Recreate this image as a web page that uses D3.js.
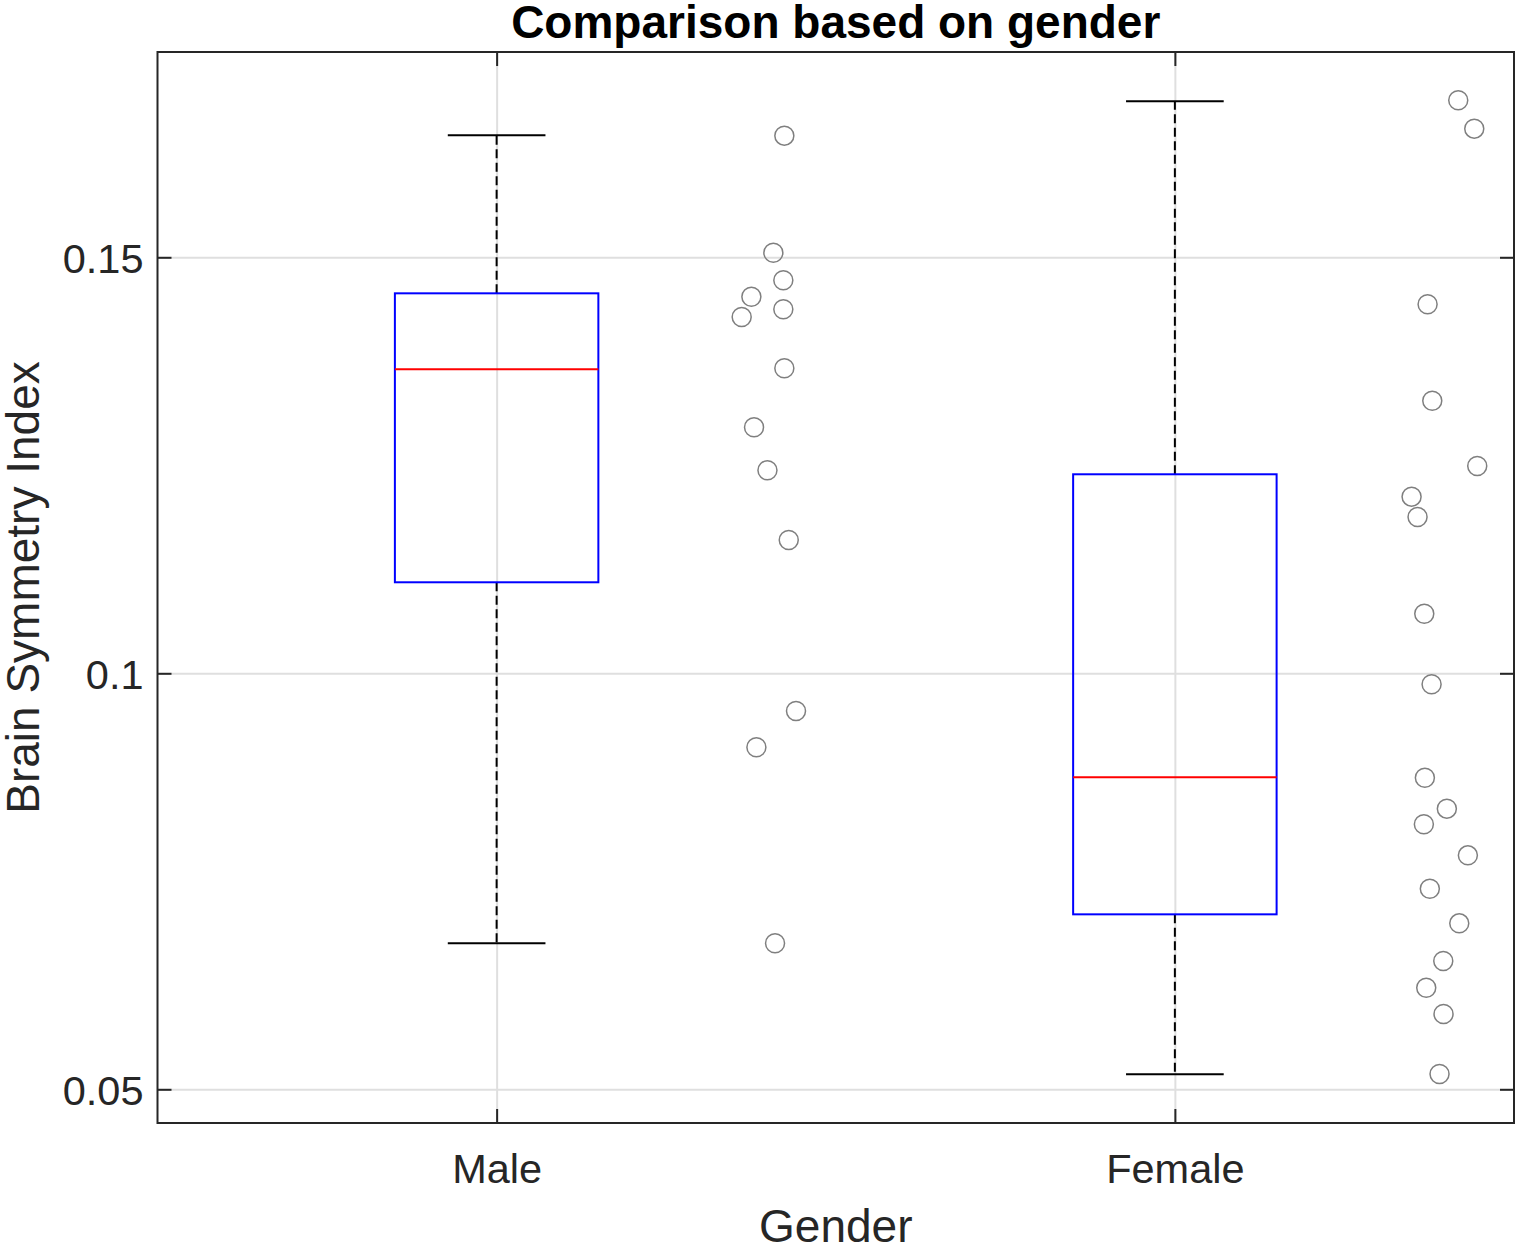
<!DOCTYPE html>
<html>
<head>
<meta charset="utf-8">
<script src="https://cdn.jsdelivr.net/npm/d3@7"></script>
<style>
  html, body { margin: 0; padding: 0; background: #ffffff; }
  svg { display: block; }
  text { font-family: "Liberation Sans", Arial, Helvetica, sans-serif; }
</style>
</head>
<body>
<svg id="chart" width="1525" height="1253"></svg>
<script>
// ---- data ----
const categories = ["Male", "Female"];
const categoryPositions = [1, 2];
const yTickValues = [0.05, 0.1, 0.15];
const yTickLabels = ["0.05", "0.1", "0.15"];

// box statistics per category (Male, Female)
const whiskerLow  = [0.06755, 0.0518];
const quartile1   = [0.11094, 0.07103];
const medians     = [0.13654, 0.0875];
const quartile3   = [0.14567, 0.12392];
const whiskerHigh = [0.16466, 0.16875];

// raw points (value, x position on category axis)
const maleValues = [0.16462, 0.15055, 0.14724, 0.14526, 0.14375, 0.14282, 0.13666,
                    0.12957, 0.1244, 0.11602, 0.09547, 0.09111, 0.06755];
const maleX      = [1.4242, 1.408, 1.4227, 1.3756, 1.4227, 1.3613, 1.4242,
                    1.3795, 1.3993, 1.4307, 1.4414, 1.383, 1.4105];
const femaleValues = [0.16887, 0.16546, 0.14435, 0.13276, 0.12492, 0.12123, 0.11879,
                      0.10716, 0.09868, 0.08745, 0.08373, 0.08185, 0.07812, 0.07411,
                      0.06995, 0.06542, 0.06221, 0.05905, 0.05184];
const femaleX      = [2.4178, 2.4414, 2.3726, 2.3795, 2.4458, 2.349, 2.3578,
                      2.3677, 2.3785, 2.3686, 2.401, 2.3671, 2.432, 2.3759,
                      2.4193, 2.3957, 2.3706, 2.3961, 2.3902];

const titleText = "Comparison based on gender";
const xLabelText = "Gender";
const yLabelText = "Brain Symmetry Index";

// ---- layout ----
const plotLeft = 157.5, plotRight = 1514, plotTop = 52, plotBottom = 1123;
const plotW = plotRight - plotLeft, plotH = plotBottom - plotTop;
const textColor = "#262626";
const tickLen = 14;

const svg = d3.select("#chart");
const g = svg.append("g").attr("transform", `translate(${plotLeft},${plotTop})`);

const x = d3.scaleLinear().domain([0.5, 2.5]).range([0, plotW]);
const y = d3.scaleLinear().domain([0.04595, 0.174675]).range([plotH, 0]);

// grid
const gridY = g.append("g").call(d3.axisLeft(y).tickValues(yTickValues).tickSize(-plotW).tickFormat(""));
const gridX = g.append("g").attr("transform", `translate(0,${plotH})`)
  .call(d3.axisBottom(x).tickValues(categoryPositions).tickSize(-plotH).tickFormat(""));
[gridY, gridX].forEach(gr => {
  gr.select(".domain").remove();
  gr.selectAll("line").attr("stroke", "#dfdfdf").attr("stroke-width", 2);
});

// boxes
const boxHalf = 0.15, capHalf = 0.072;
const boxData = categoryPositions.map((p, i) => ({
  p, lo: whiskerLow[i], q1: quartile1[i], med: medians[i], q3: quartile3[i], hi: whiskerHigh[i]
}));

const bx = g.append("g");
bx.selectAll(".wup").data(boxData).join("line").attr("class", "wup")
  .attr("x1", d => x(d.p)).attr("x2", d => x(d.p))
  .attr("y1", d => y(d.q3)).attr("y2", d => y(d.hi))
  .attr("stroke", "#000").attr("stroke-width", 2).attr("stroke-dasharray", "9,4.5");
bx.selectAll(".wdn").data(boxData).join("line").attr("class", "wdn")
  .attr("x1", d => x(d.p)).attr("x2", d => x(d.p))
  .attr("y1", d => y(d.q1)).attr("y2", d => y(d.lo))
  .attr("stroke", "#000").attr("stroke-width", 2).attr("stroke-dasharray", "9,4.5");
bx.selectAll(".caphi").data(boxData).join("line").attr("class", "caphi")
  .attr("x1", d => x(d.p - capHalf)).attr("x2", d => x(d.p + capHalf))
  .attr("y1", d => y(d.hi)).attr("y2", d => y(d.hi))
  .attr("stroke", "#000").attr("stroke-width", 2);
bx.selectAll(".caplo").data(boxData).join("line").attr("class", "caplo")
  .attr("x1", d => x(d.p - capHalf)).attr("x2", d => x(d.p + capHalf))
  .attr("y1", d => y(d.lo)).attr("y2", d => y(d.lo))
  .attr("stroke", "#000").attr("stroke-width", 2);
bx.selectAll(".box").data(boxData).join("rect").attr("class", "box")
  .attr("x", d => x(d.p - boxHalf)).attr("width", d => x(d.p + boxHalf) - x(d.p - boxHalf))
  .attr("y", d => y(d.q3)).attr("height", d => y(d.q1) - y(d.q3))
  .attr("fill", "none").attr("stroke", "#0000ff").attr("stroke-width", 2);
bx.selectAll(".med").data(boxData).join("line").attr("class", "med")
  .attr("x1", d => x(d.p - boxHalf)).attr("x2", d => x(d.p + boxHalf))
  .attr("y1", d => y(d.med)).attr("y2", d => y(d.med))
  .attr("stroke", "#ff0000").attr("stroke-width", 2);

// points
const pts = maleValues.map((v, i) => ({ v, xp: maleX[i] }))
  .concat(femaleValues.map((v, i) => ({ v, xp: femaleX[i] })));
g.append("g").selectAll("circle").data(pts).join("circle")
  .attr("cx", d => x(d.xp)).attr("cy", d => y(d.v)).attr("r", 9.5)
  .attr("fill", "none").attr("stroke", "#7f7f7f").attr("stroke-width", 1.5);

// axes
const fmtY = d => yTickLabels[yTickValues.indexOf(d)];
const fmtX = d => categories[categoryPositions.indexOf(d)];

const axL = g.append("g").call(d3.axisLeft(y).tickValues(yTickValues).tickSizeInner(-tickLen).tickSizeOuter(0).tickPadding(14).tickFormat(fmtY));
const axR = g.append("g").attr("transform", `translate(${plotW},0)`)
  .call(d3.axisRight(y).tickValues(yTickValues).tickSizeInner(-tickLen).tickSizeOuter(0).tickFormat(""));
const axB = g.append("g").attr("transform", `translate(0,${plotH})`)
  .call(d3.axisBottom(x).tickValues(categoryPositions).tickSizeInner(-tickLen).tickSizeOuter(0).tickFormat(fmtX));
const axT = g.append("g")
  .call(d3.axisTop(x).tickValues(categoryPositions).tickSizeInner(-tickLen).tickSizeOuter(0).tickFormat(""));

[axL, axR, axB, axT].forEach(a => {
  a.select(".domain").remove();
  a.selectAll("line").attr("stroke", textColor).attr("stroke-width", 2);
  a.selectAll("text").attr("fill", textColor).style("font-size", "41.5px")
    .style("font-family", '"Liberation Sans", Arial, Helvetica, sans-serif');
});
axL.selectAll("text").attr("dy", "0.36em");
axB.selectAll("text").attr("y", 60).attr("dy", 0);

// frame
g.append("rect").attr("x", 0).attr("y", 0).attr("width", plotW).attr("height", plotH)
  .attr("fill", "none").attr("stroke", textColor).attr("stroke-width", 2);

// labels
svg.append("text").attr("x", plotLeft + plotW / 2).attr("y", 38)
  .attr("text-anchor", "middle").attr("font-size", 46).attr("font-weight", "bold")
  .attr("fill", "#000").text(titleText);
svg.append("text").attr("x", plotLeft + plotW / 2).attr("y", 1242)
  .attr("text-anchor", "middle").attr("font-size", 46).attr("fill", textColor).text(xLabelText);
svg.append("text").attr("transform", `translate(39,${plotTop + plotH / 2}) rotate(-90)`)
  .attr("text-anchor", "middle").attr("font-size", 46).attr("fill", textColor).text(yLabelText);
</script>
</body>
</html>
